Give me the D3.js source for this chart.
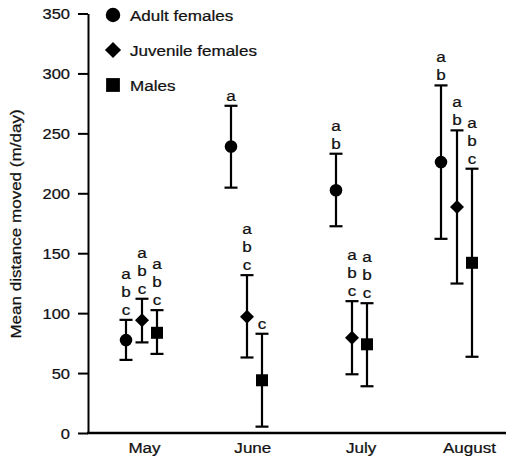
<!DOCTYPE html>
<html>
<head>
<meta charset="utf-8">
<script src="https://cdn.jsdelivr.net/npm/d3@7"></script>
<style>
  html, body { margin: 0; padding: 0; background: #fff; }
  svg { display: block; font-family: "Liberation Sans", Arial, Helvetica, sans-serif; }
  svg text { stroke: #111; stroke-width: 0.25px; }
</style>
</head>
<body>
<div id="chart"></div>
<script>
// ---- data ----
const months = ["May", "June", "July", "August"];
const yTicks = [0, 50, 100, 150, 200, 250, 300, 350];
const seriesNames = ["Adult females", "Juvenile females", "Males"];

const adultMean = [77.5, 239, 202.5, 226];
const adultLow  = [61, 204.7, 172.5, 162];
const adultHigh = [94.4, 273, 233, 290];
const adultLetters = [["a","b","c"], ["a"], ["a","b"], ["a","b"]];

const juvMean = [94, 97, 79.4, 188.6];
const juvLow  = [75.6, 63, 49, 124.7];
const juvHigh = [112, 131.7, 110, 252.5];
const juvLetters = [["a","b","c"], ["a","b","c"], ["a","b","c"], ["a","b"]];

const maleMean = [83.6, 44, 74, 142];
const maleLow  = [66, 5.3, 39, 63.6];
const maleHigh = [102.5, 82.8, 108.3, 220.5];
const maleLetters = [["a","b","c"], ["c"], ["a","b","c"], ["a","b","c"]];

// ---- layout ----
const W = 506, H = 458;
const SX = 1.1; // horizontal glyph stretch of the reference
const svg = d3.select("#chart").append("svg").attr("width", W).attr("height", H);
svg.append("rect").attr("width", W).attr("height", H).attr("fill", "#fff");

const y = d3.scaleLinear().domain([0, 350]).range([433, 13.5]);
const x = d3.scalePoint().domain(months).range([142, 457]);
const xLab = d3.scalePoint().domain(months).range([144, 469]);
const seriesOffset = [-16, 0, 15];

function stretchedText(sel, fs) {
  sel.each(function () {
    const t = d3.select(this);
    const tx = +t.attr("x") || 0, ty = +t.attr("y") || 0;
    t.attr("font-size", fs)
     .attr("transform", `translate(${tx},${ty}) scale(${SX},1)`)
     .attr("x", 0).attr("y", 0);
  });
}

// y axis
const yAxis = svg.append("g").attr("transform", "translate(88,0)")
  .call(d3.axisLeft(y).tickValues(yTicks).tickSize(10).tickSizeOuter(0).tickPadding(8));
yAxis.selectAll("path, line").attr("stroke", "#000").attr("stroke-width", 2);
yAxis.selectAll("text").attr("fill", "#111")
  .attr("dy", "0.36em").call(stretchedText, 15);
yAxis.attr("font-family", null);

// x baseline
svg.append("line").attr("x1", 87).attr("x2", 506).attr("y1", 433).attr("y2", 433)
  .attr("stroke", "#000").attr("stroke-width", 2.5);

// x labels
const xAxis = svg.append("g").attr("transform", "translate(0,433)")
  .call(d3.axisBottom(xLab).tickSize(0).tickPadding(9));
xAxis.select(".domain").remove();
xAxis.attr("font-family", null);
xAxis.selectAll("text").attr("fill", "#111").call(stretchedText, 15.5);

// y label
svg.append("text")
  .attr("transform", `translate(21,224) rotate(-90) scale(${SX},1)`)
  .attr("text-anchor", "middle").attr("font-size", 15.5).attr("fill", "#111")
  .text("Mean distance moved (m/day)");

// series
const series = [
  { name: seriesNames[0], mean: adultMean, low: adultLow, high: adultHigh, letters: adultLetters, sym: "circle" },
  { name: seriesNames[1], mean: juvMean, low: juvLow, high: juvHigh, letters: juvLetters, sym: "diamond" },
  { name: seriesNames[2], mean: maleMean, low: maleLow, high: maleHigh, letters: maleLetters, sym: "square" }
];

function drawMarker(g, sym, cx, cy, scale) {
  const s = scale || 1;
  if (sym === "circle") {
    g.append("circle").attr("cx", cx).attr("cy", cy).attr("r", 6.3 * s).attr("fill", "#000");
  } else if (sym === "diamond") {
    g.append("path").attr("d", d3.symbol(d3.symbolSquare, 98 * s * s)())
      .attr("transform", `translate(${cx},${cy}) rotate(45)`).attr("fill", "#000");
  } else {
    g.append("path").attr("d", d3.symbol(d3.symbolSquare, 144 * s * s)())
      .attr("transform", `translate(${cx},${cy})`).attr("fill", "#000");
  }
}

const capHalf = 6.5;
series.forEach((s, si) => {
  const g = svg.append("g");
  months.forEach((m, i) => {
    const cx = x(m) + seriesOffset[si];
    const yl = y(s.low[i]), yh = y(s.high[i]), ym = y(s.mean[i]);
    g.append("line").attr("x1", cx).attr("x2", cx).attr("y1", yl).attr("y2", yh)
      .attr("stroke", "#000").attr("stroke-width", 2.2);
    [yl, yh].forEach(yy => g.append("line").attr("x1", cx - capHalf).attr("x2", cx + capHalf)
      .attr("y1", yy).attr("y2", yy).attr("stroke", "#000").attr("stroke-width", 2.2));
    drawMarker(g, s.sym, cx, ym);
    const L = s.letters[i];
    L.forEach((letter, k) => {
      const by = yh - 5 - (L.length - 1 - k) * 18;
      g.append("text").attr("x", cx).attr("y", by).attr("text-anchor", "middle")
        .attr("fill", "#111").text(letter).call(stretchedText, 15.5);
    });
  });
});

// legend
const legendY = [15, 50, 85];
const legend = svg.append("g");
series.forEach((s, si) => {
  drawMarker(legend, s.sym, 113, legendY[si], 1.15);
  legend.append("text").attr("x", 130).attr("y", legendY[si] + 5.5)
    .attr("fill", "#111").text(s.name).call(stretchedText, 15.5);
});
</script>
</body>
</html>
